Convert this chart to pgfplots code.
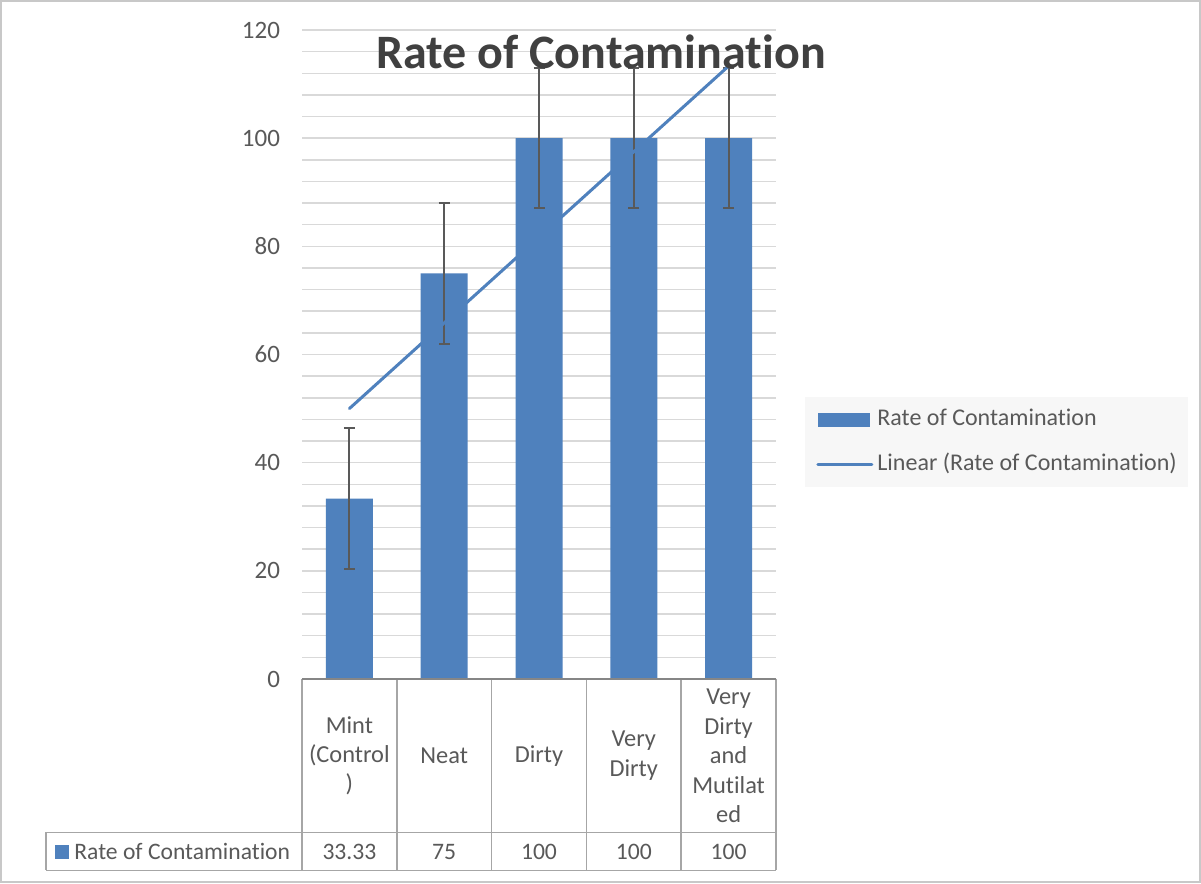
\documentclass[border=0pt]{standalone}
\usepackage{fontspec}
\setmainfont{Carlito}[Ligatures={NoCommon}]
\usepackage{pgfplots}
\pgfplotsset{compat=1.18}
\definecolor{barblue}{HTML}{4F81BD}
\definecolor{txt}{HTML}{595959}
\definecolor{ttl}{HTML}{404040}
\definecolor{gridc}{HTML}{D9D9D9}
\definecolor{tabc}{HTML}{A6A6A6}
\definecolor{axc}{HTML}{868686}
\definecolor{framec}{HTML}{C8C8C8}
\definecolor{legbg}{HTML}{F7F7F7}
\definecolor{errc}{HTML}{595959}
\begin{document}
\begin{tikzpicture}
\useasboundingbox (0,0) rectangle (600.5pt,442pt);
\fill[white] (0,0) rectangle (600.5pt,442pt);
\begin{axis}[
  at={(151pt,102.5pt)}, anchor=south west,
  scale only axis, width=237pt, height=324.5pt,
  xmin=0.5, xmax=5.5, ymin=0, ymax=120,
  ytick={0,20,...,120}, minor y tick num=4,
  xtick={1,2,3,4,5},
  xticklabels={{Mint\\(Control\\)},{Neat},{Dirty},{Very\\Dirty},{Very\\Dirty\\and\\Mutilat\\ed}},
  xticklabel style={font=\fontsize{12.2}{14.75}\selectfont, text=txt, align=center, anchor=center, yshift=-38.4pt},
  yticklabel style={font=\fontsize{12.5}{14}\selectfont, text=txt, xshift=-7.5pt},
  /pgf/number format/assume math mode=true,
  axis line style={draw=none},
  major tick length=0pt, minor tick length=0pt,
  ymajorgrids, yminorgrids,
  major grid style={gridc, line width=0.75pt},
  minor grid style={gridc, line width=0.75pt},
  clip=false,
  legend style={at={(1.0612,0.4345)}, anchor=north west, fill=legbg, draw=none,
    inner xsep=5.5pt, inner ysep=6pt, row sep=12pt,
    font=\fontsize{12}{14}\selectfont, text=txt,
    nodes={inner sep=0pt, text height=8pt, text depth=2.5pt},
    /tikz/every odd column/.append style={column sep=2pt}},
  legend cell align=left,
]
\addplot[ybar, bar width=23.5pt, fill=barblue, draw=none,
  legend image code/.code={\fill[barblue] (0pt,-3.5pt) rectangle (26pt,3.5pt);},
  error bars/.cd, y dir=both, y explicit,
  error bar style={errc, line width=1pt},
  error mark=-,
  error mark options={errc, line width=1pt, mark size=2.75pt, rotate=90}]
coordinates {
  (1,33.33) +- (0,13)
  (2,75) +- (0,13)
  (3,100) +- (0,13)
  (4,100) +- (0,13)
  (5,100) +- (0,13)
};
\addlegendentry{Rate of Contamination}
\addplot[barblue, line width=1.5pt, line cap=round,
  legend image code/.code={\draw[barblue, line width=1.5pt, line cap=round] (0pt,0pt) -- (27pt,0pt);}]
coordinates {(1,50.00) (5,113.33)};
\addlegendentry{Linear (Rate of Contamination)}
\node[font=\fontsize{11.8}{14}\selectfont, text=txt] at (axis cs:1,-31.9) {33.33};
\node[font=\fontsize{11.8}{14}\selectfont, text=txt] at (axis cs:2,-31.9) {75};
\node[font=\fontsize{11.8}{14}\selectfont, text=txt] at (axis cs:3,-31.9) {100};
\node[font=\fontsize{11.8}{14}\selectfont, text=txt] at (axis cs:4,-31.9) {100};
\node[font=\fontsize{11.8}{14}\selectfont, text=txt] at (axis cs:5,-31.9) {100};
\end{axis}
\begin{scope}[x=0.5pt, y=-0.5pt, shift={(0pt,442pt)}]
\draw[framec, line width=1pt] (1,1) rectangle (1199.5,882.5);
\foreach \xx in {302,396.8,491.6,586.4,681.2,776}{
  \draw[tabc, line width=0.75pt] (\xx,679) -- (\xx,870.5);
}
\draw[tabc, line width=0.75pt] (46,832.5) -- (776,832.5);
\draw[tabc, line width=0.75pt] (46,870.5) -- (776,870.5);
\draw[tabc, line width=0.75pt] (46,832.5) -- (46,870.5);
\draw[axc, line width=1pt] (302,679) -- (776,679);
\fill[barblue] (55,845) rectangle (69,859);
\node[anchor=west, inner sep=0pt, font=\fontsize{11.8}{14}\selectfont, text=txt] at (74,851.5) {Rate of Contamination};
\node[font=\fontsize{24}{28}\selectfont\bfseries, text=ttl] at (601,52) {Rate of Contamination};
\end{scope}
\end{tikzpicture}
\end{document}
